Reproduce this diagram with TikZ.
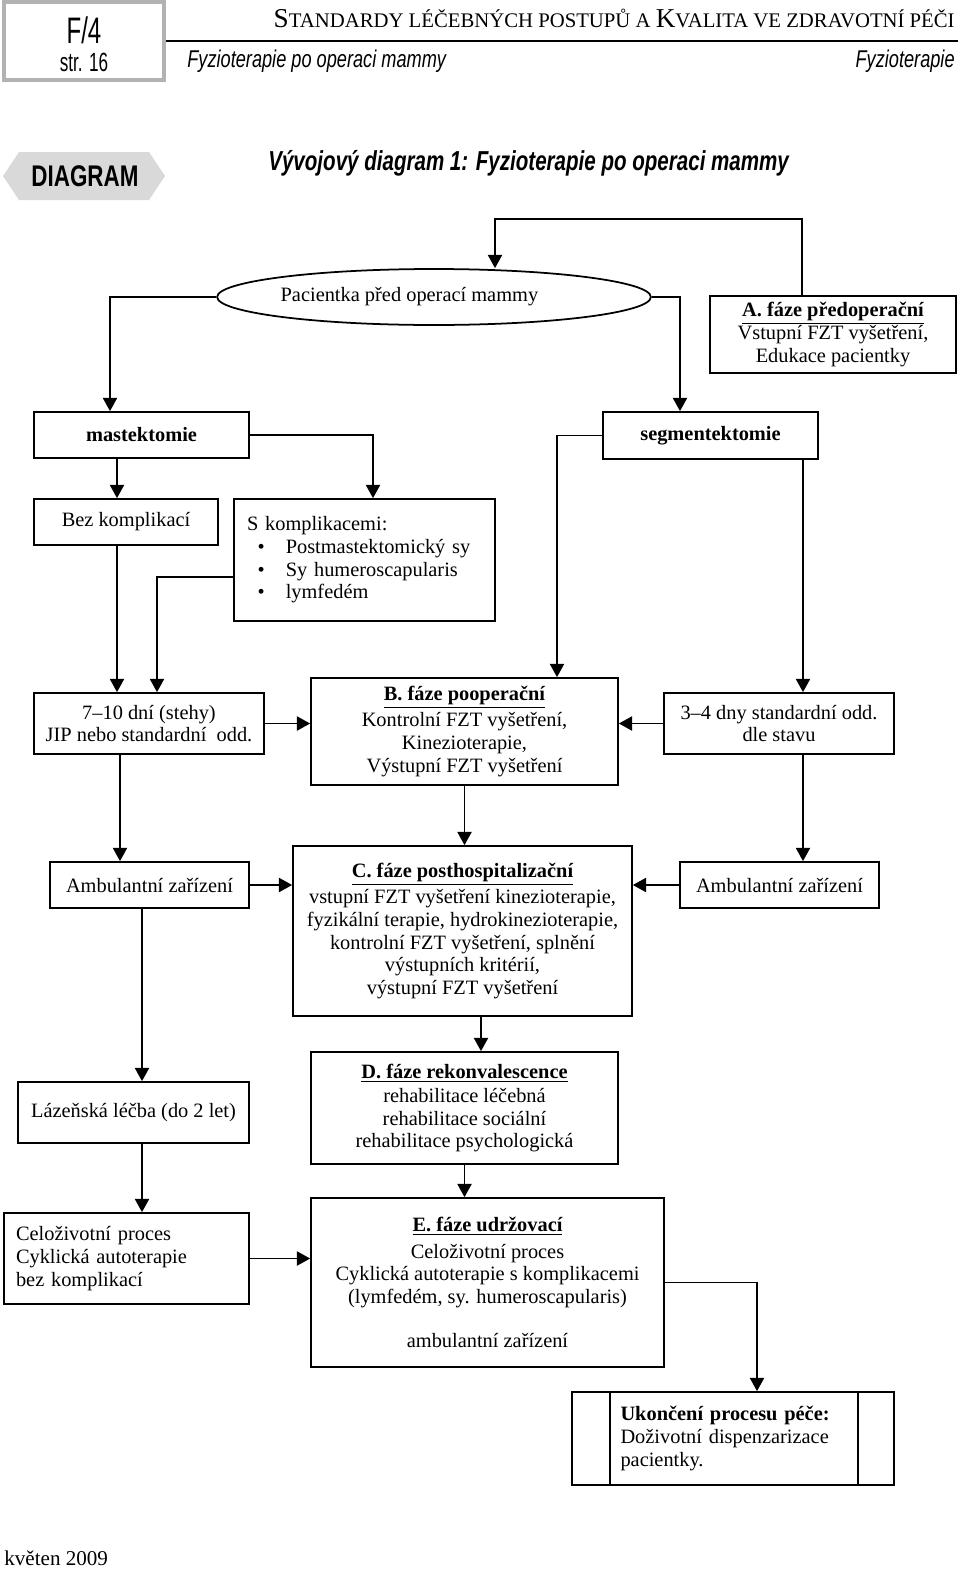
\documentclass[tikz,border=0pt]{standalone}
\usepackage{fontspec}
\usetikzlibrary{shapes.geometric,arrows.meta,calc}
\newfontfamily\tms{Liberation Serif}
\newfontfamily\uzky[FakeStretch=0.75]{Liberation Sans}
\newfontfamily\uzsi[FakeStretch=0.65]{Liberation Sans}
\newcommand{\pismo}{\tms\fontsize{11.6}{12.9}\selectfont}
\newcommand{\hlava}[1]{\textbf{\underline{#1}}}
\newcommand{\kap}[2]{{\fontsize{15.5}{16}\selectfont #1}#2}
\begin{document}
\begin{tikzpicture}[x=0.02cm,y=-0.02cm,
  box/.style={draw, line width=1pt, align=center, inner sep=2pt, font=\pismo},
  hlav/.style={inner sep=0pt},
  arr/.style={line width=1pt, -{Triangle[width=8pt,length=7.5pt]}}]
  \useasboundingbox (0,0) rectangle (960,1572);
  % hlavička
  \draw[line width=2.4pt, gray!60] (4,2) rectangle (164,80);
  \node[font=\uzsi\fontsize{21}{21}\selectfont] (f4) at (84,30) {F/4};
  \node[font=\uzsi\fontsize{15}{15}\selectfont] (str) at (84,62) {str. 16};
  \draw[line width=1.6pt] (166,41) -- (958,41);
  \node[hlav, anchor=base east, font=\tms\fontsize{11.8}{14}\selectfont] (titul) at (955,28)
    {\kap{S}{TANDARDY LÉČEBNÝCH POSTUPŮ A }\kap{K}{VALITA VE ZDRAVOTNÍ PÉČI}};
  \node[hlav, anchor=base west, font=\uzky\itshape\fontsize{13.8}{15}\selectfont] (podtitul) at (187,67) {Fyzioterapie po operaci mammy};
  \node[hlav, anchor=base east, font=\uzky\itshape\fontsize{13.8}{15}\selectfont] (obor) at (955,67) {Fyzioterapie};
  % štítek DIAGRAM
  \fill[gray!30] (3,176) -- (19,152) -- (149,152) -- (165,176) -- (149,200) -- (19,200) -- cycle;
  \node[font=\uzky\bfseries\fontsize{17}{17}\selectfont] (stitek) at (85,176) {DIAGRAM};
  \node[hlav, anchor=west, font=\uzky\bfseries\itshape\fontsize{15.6}{17}\selectfont] (nadpis) at (268,163)
    {Vývojový diagram 1: Fyzioterapie po operaci mammy};
  % uzly
  \node[draw, ellipse, line width=1pt, minimum width=8.64cm, minimum height=1.12cm, inner sep=0pt, font=\pismo] (pac) at (434,297)
    {Pacientka před operací mammy\hspace*{28pt}};
  \node[box, minimum width=4.92cm, minimum height=1.54cm] (A) at (833,334.5)
    {\hlava{A. fáze předoperační}\\ Vstupní FZT vyšetření,\\ Edukace pacientky};
  \node[box, minimum width=4.3cm, minimum height=0.92cm] (mast) at (141.5,435) {\textbf{mastektomie}};
  \node[box, minimum width=4.3cm, minimum height=0.94cm] (seg) at (710.5,435.5) {\textbf{segmentektomie}};
  \node[box, minimum width=3.68cm, minimum height=0.92cm] (bez) at (126,522) {Bez komplikací};
  \node[box, align=left, text width=4.7cm, inner xsep=0.26cm, minimum height=2.44cm] (skomp) at (364.5,560)
    {S komplikacemi:\\
     \hspace*{6pt}\textbullet\hspace{12pt}Postmastektomický sy\\
     \hspace*{6pt}\textbullet\hspace{12pt}Sy humeroscapularis\\
     \hspace*{6pt}\textbullet\hspace{12pt}lymfedém};
  \node[box, minimum width=4.6cm, minimum height=1.22cm] (sedm) at (149,723.5)
    {7–10 dní (stehy)\\ JIP nebo standardní\ \ odd.};
  \node[box, minimum width=6.14cm, minimum height=2.14cm] (B) at (464.5,731.5)
    {\hlava{B. fáze pooperační}\\[2pt] Kontrolní FZT vyšetření,\\ Kinezioterapie,\\ Výstupní FZT vyšetření};
  \node[box, minimum width=4.6cm, minimum height=1.22cm] (tri) at (779,723.5)
    {3–4 dny standardní odd.\\ dle stavu};
  \node[box, minimum width=3.98cm, minimum height=0.92cm] (ambL) at (149.5,885) {Ambulantní zařízení};
  \node[box, minimum width=6.78cm, minimum height=3.4cm] (C) at (462.5,931)
    {\hlava{C. fáze posthospitalizační}\\[2pt] vstupní FZT vyšetření kinezioterapie,\\ fyzikální terapie, hydrokinezioterapie,\\
     kontrolní FZT vyšetření, splnění\\ výstupních kritérií,\\ výstupní FZT vyšetření};
  \node[box, minimum width=3.98cm, minimum height=0.92cm] (ambR) at (779.5,885) {Ambulantní zařízení};
  \node[box, minimum width=4.62cm, minimum height=1.22cm] (laz) at (133.5,1112.5) {Lázeňská léčba (do 2 let)};
  \node[box, minimum width=6.14cm, minimum height=2.24cm] (D) at (464.5,1108)
    {\hlava{D. fáze rekonvalescence}\\[1pt] rehabilitace léčebná\\ rehabilitace sociální\\ rehabilitace psychologická};
  \node[box, align=left, text width=4.42cm, inner xsep=0.24cm, minimum height=1.82cm] (celo) at (126.5,1258.5)
    {Celoživotní proces\\ Cyklická autoterapie\\ bez komplikací};
  \node[box, minimum width=7.06cm, minimum height=3.38cm] (E) at (487.5,1282.5)
    {\hlava{E. fáze udržovací}\\[2pt] Celoživotní proces\\ Cyklická autoterapie s komplikacemi\\
     (lymfedém, sy. humeroscapularis)\\[12pt] ambulantní zařízení};
  \node[box, align=left, text width=4.5cm, minimum width=6.44cm, minimum height=1.86cm] (uk) at (733,1438.5)
    {\textbf{Ukončení procesu péče:}\\ Doživotní dispenzarizace\\ pacientky.};
  \draw[line width=1pt] ($(uk.north west)+(39,0)$) -- ($(uk.south west)+(39,0)$);
  \draw[line width=1pt] ($(uk.north east)+(-37,0)$) -- ($(uk.south east)+(-37,0)$);
  % body ohybů
  \coordinate (p1) at ($(mast.north)+(-31.5,0)$);
  \coordinate (p2) at ($(seg.north)+(-30.5,0)$);
  \coordinate (a1) at ($(A.north)+(-31,0)$);
  \coordinate (a2) at ($(pac.north)+(61,0)$);
  \coordinate (m1) at ($(mast.south)+(-24.5,0)$);
  \coordinate (s1) at ($(skomp.north)+(8.5,0)$);
  \coordinate (s2) at ($(skomp.west)+(0,17)$);
  \coordinate (s3) at ($(sedm.north)+(8,0)$);
  \coordinate (b1) at ($(B.north)+(92.5,0)$);
  \coordinate (t1) at ($(tri.north)+(24,0)$);
  \coordinate (l1) at ($(ambL.north)+(-29.5,0)$);
  \coordinate (l2) at ($(laz.north)+(8.5,0)$);
  \coordinate (d1) at ($(D.north)+(16.5,0)$);
  \coordinate (u1) at ($(uk.north)+(24,0)$);
  % spojnice
  \draw[arr] (pac.west) -| (p1);
  \draw[arr] (pac.east) -| (p2);
  \draw[arr] (a1) -- ++(0,-76) -| (a2);
  \draw[arr] (m1) -- (m1 |- bez.north);
  \draw[arr] (mast.east) -| (s1);
  \draw[arr] (m1 |- bez.south) -- (m1 |- sedm.north);
  \draw[arr] (s2) -| (s3);
  \draw[arr] (seg.west) -| (b1);
  \draw[arr] (t1 |- seg.south) -- (t1);
  \draw[arr] (sedm.east) -- (sedm.east -| B.west);
  \draw[arr] (tri.west) -- (tri.west -| B.east);
  \draw[arr] (l1 |- sedm.south) -- (l1);
  \draw[arr] (B.south) -- (B.south |- C.north);
  \draw[arr] (t1 |- tri.south) -- (t1 |- ambR.north);
  \draw[arr] (ambL.east) -- (ambL.east -| C.west);
  \draw[arr] (ambR.west) -- (ambR.west -| C.east);
  \draw[arr] (l2 |- ambL.south) -- (l2);
  \draw[arr] (d1 |- C.south) -- (d1);
  \draw[arr] (l2 |- laz.south) -- (l2 |- celo.north);
  \draw[arr] (D.south) -- (D.south |- E.north);
  \draw[arr] (celo.east) -- (celo.east -| E.west);
  \draw[arr] (E.east) -| (u1);
  % pata
  \node[hlav, anchor=base west, font=\tms\fontsize{12}{14}\selectfont] (datum) at (4,1565) {květen 2009};
\end{tikzpicture}
\end{document}
